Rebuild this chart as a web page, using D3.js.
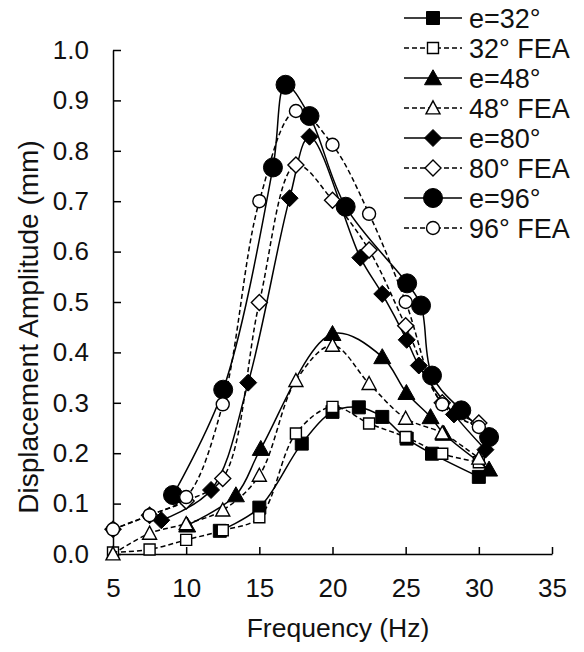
<!DOCTYPE html>
<html>
<head>
<meta charset="utf-8">
<script src="https://cdn.jsdelivr.net/npm/d3@7"></script>
<style>
  body { margin: 0; background: #fff; }
  svg text { font-family: "Liberation Sans", Arial, sans-serif; fill: #111; }
</style>
</head>
<body>
<svg id="chart" width="584" height="652"></svg>
<script>
// measured series: [frequency Hz, amplitude mm]
const e32 = [[12.3, 0.046], [15.0, 0.092], [17.9, 0.219], [20.0, 0.282], [21.8, 0.291],
  [23.4, 0.272], [25.07, 0.229], [26.8, 0.199], [30.0, 0.153]];
const fea32 = [[5, 0.003], [7.5, 0.009], [10, 0.028], [12.5, 0.047], [15, 0.073],
  [17.5, 0.239], [20, 0.292], [22.5, 0.259], [25, 0.232], [27.5, 0.199], [30, 0.182]];
const e48 = [[10.07, 0.057], [13.4, 0.117], [15.1, 0.209], [20.0, 0.437], [23.4, 0.391],
  [25.05, 0.32], [26.7, 0.272], [27.6, 0.239], [30.7, 0.168]];
const fea48 = [[5, 0.0], [7.5, 0.041], [10, 0.06], [12.5, 0.087], [15, 0.156],
  [17.5, 0.344], [20, 0.414], [22.5, 0.338], [25, 0.269], [27.5, 0.24], [30, 0.19]];
const e80 = [[8.3, 0.067], [11.7, 0.127], [14.24, 0.34], [17.07, 0.706], [18.43, 0.828],
  [21.9, 0.588], [23.4, 0.516], [25.07, 0.425], [25.9, 0.374], [28.3, 0.277], [30.45, 0.207]];
const fea80 = [[5, 0.049], [7.5, 0.077], [10, 0.105], [12.5, 0.15], [15, 0.499],
  [17.5, 0.772], [20, 0.702], [22.5, 0.603], [25, 0.453], [27.5, 0.30], [30, 0.26]];
const e96 = [[9.1, 0.117], [12.53, 0.326], [15.93, 0.767], [16.79, 0.931], [18.43, 0.869],
  [20.9, 0.689], [25.1, 0.537], [26.05, 0.493], [26.8, 0.354], [28.8, 0.285], [30.7, 0.232]];
const fea96 = [[5, 0.049], [7.5, 0.077], [10, 0.113], [12.5, 0.297], [15, 0.70],
  [17.5, 0.879], [20, 0.812], [22.5, 0.675], [25, 0.50], [27.5, 0.297], [30, 0.252]];

const seriesNames = ["e=32°", "32° FEA", "e=48°", "48° FEA", "e=80°", "80° FEA", "e=96°", "96° FEA"];
const seriesData = [e32, fea32, e48, fea48, e80, fea80, e96, fea96];
const seriesShape = ["square", "square", "triangle", "triangle", "diamond", "diamond", "circle", "circle"];
const seriesFilled = [true, false, true, false, true, false, true, false];

const xTicks = [5, 10, 15, 20, 25, 30, 35];
const yTicks = [0, 0.1, 0.2, 0.3, 0.4, 0.5, 0.6, 0.7, 0.8, 0.9, 1.0];

const svg = d3.select("#chart");
const x = d3.scaleLinear().domain([5, 35]).range([113, 552]);
const y = d3.scaleLinear().domain([0, 1]).range([554, 50]);

// marker path, centred on 0,0
function markerPath(shape, filled) {
    if (shape === "square") {
        const s = filled ? 6.5 : 5.5;
        return `M${-s},${-s}H${s}V${s}H${-s}Z`;
    }
    if (shape === "triangle") {
        const w = filled ? 8.5 : 7, h = filled ? 15 : 13;
        return `M0,${-h * 0.55}L${w},${h * 0.45}L${-w},${h * 0.45}Z`;
    }
    if (shape === "diamond") {
        const s = filled ? 8.5 : 8;
        return `M0,${-s}L${s},0L0,${s}L${-s},0Z`;
    }
    const r = filled ? 9.5 : 6.5;
    return `M${r},0A${r},${r} 0 1,1 ${-r},0A${r},${r} 0 1,1 ${r},0Z`;
}

// axes
const xAxis = svg.append("g").
attr("transform", `translate(0,${y(0)})`).
call(d3.axisBottom(x).tickValues(xTicks).tickSizeInner(-7).tickSizeOuter(0).tickPadding(25));
const yAxis = svg.append("g").
attr("transform", `translate(${x(5)},0)`).
call(d3.axisLeft(y).tickValues(yTicks).tickFormat(d3.format(".1f")).tickSizeInner(-8).tickSizeOuter(0).tickPadding(24));

[xAxis, yAxis].forEach(a => {
    a.select(".domain").attr("stroke", "#000").attr("stroke-width", 1.5);
    a.selectAll(".tick line").attr("stroke", "#000").attr("stroke-width", 1.5);
    a.selectAll(".tick text").
    style("font-size", "26px").
    style("font-family", "'Liberation Sans', Arial, sans-serif").
    attr("fill", "#111");
});

// axis titles
svg.append("text").
attr("x", 338).
attr("y", 637).
attr("text-anchor", "middle").
style("font-size", "26.5px").
text("Frequency (Hz)");

svg.append("text").
attr("transform", "translate(38,327) rotate(-90)").
attr("text-anchor", "middle").
style("font-size", "28px").
text("Displacement  Amplitude (mm)");

// series
const line = d3.line().
x(d => x(d[0])).
y(d => y(d[1])).
curve(d3.curveCatmullRom.alpha(0.5));

seriesData.forEach((data, i) => {
    const g = svg.append("g").attr("class", "series");
    g.append("path").
    datum(data).
    attr("d", line).
    attr("fill", "none").
    attr("stroke", "#000").
    attr("stroke-width", 1.5).
    attr("stroke-dasharray", seriesFilled[i] ? null : "5,3");

    g.selectAll("path.marker").
    data(data).
    join("path").
    attr("class", "marker").
    attr("transform", d => `translate(${x(d[0])},${y(d[1])})`).
    attr("d", markerPath(seriesShape[i], seriesFilled[i])).
    attr("fill", seriesFilled[i] ? "#000" : "#fff").
    attr("stroke", "#000").
    attr("stroke-width", seriesFilled[i] ? 1 : 1.4);
});

// legend
const legend = svg.append("g").attr("transform", "translate(404,18)");
const rows = legend.selectAll("g").
data(seriesNames).
join("g").
attr("transform", (d, i) => `translate(0,${i * 30})`);

rows.append("line").
attr("x1", 0).
attr("x2", 58).
attr("stroke", "#000").
attr("stroke-width", 1.5).
attr("stroke-dasharray", (d, i) => seriesFilled[i] ? null : "5,3");

rows.append("path").
attr("transform", "translate(29,0)").
attr("d", (d, i) => markerPath(seriesShape[i], seriesFilled[i])).
attr("fill", (d, i) => seriesFilled[i] ? "#000" : "#fff").
attr("stroke", "#000").
attr("stroke-width", (d, i) => seriesFilled[i] ? 1 : 1.4);

rows.append("text").
attr("x", 65).
attr("dy", "0.36em").
style("font-size", "27px").
text(d => d);
</script>
</body>
</html>
